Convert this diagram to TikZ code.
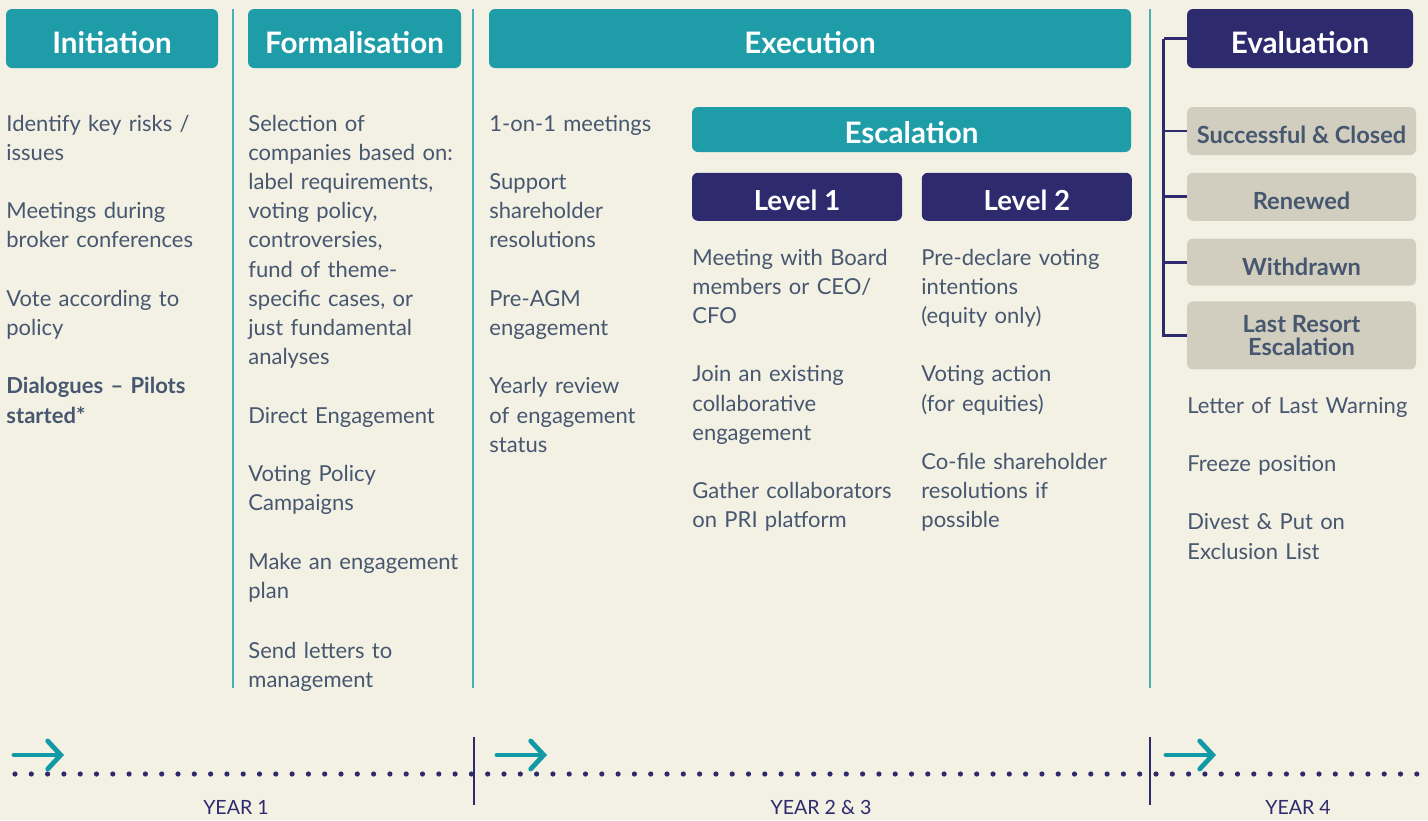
\documentclass[tikz,border=0pt]{standalone}
\usepackage{fontspec}
\setmainfont{Lato}
\usetikzlibrary{arrows.meta, positioning}

\definecolor{paper}{HTML}{F3F0E4}
\definecolor{phaseteal}{HTML}{1E9DA8}
\definecolor{arrowteal}{HTML}{1199A5}
\definecolor{ruleteal}{HTML}{4DAEB6}
\definecolor{navy}{HTML}{2D2A6E}
\definecolor{stone}{HTML}{D1CEBF}
\definecolor{slate}{HTML}{46576F}

\tikzset{
  phase/.style={fill=phaseteal, rounded corners=3pt, text=white, inner sep=0pt,
    text height=14.6pt, text depth=0pt, font=\fontsize{14.8}{17}\selectfont\bfseries},
  level/.style={phase, fill=navy},
  outcome/.style={fill=stone, rounded corners=3pt, text=slate, inner sep=0pt,
    align=center, minimum width=114.5pt, font=\fontsize{11.8}{11.5}\selectfont\bfseries},
  lowcaps/.style={text height=#1, text depth=0pt},
  body/.style={anchor=base west, inner sep=0pt, text width=112pt, align=left,
    text=slate, font=\fontsize{11}{14.6}\selectfont},
  colrule/.style={draw=ruleteal, line width=0.7pt},
  branch/.style={draw=navy, line width=1.4pt},
  yearsep/.style={draw=navy, line width=1pt},
  dots/.style={draw=navy, line width=2.6pt, line cap=round, dash pattern=on 0pt off 8.15pt},
  yeararrow/.style={draw=arrowteal, line width=2.4pt, line cap=round,
    -{Straight Barb[length=6.5pt, width=14pt, line cap=round]}},
  yearlabel/.style={text=navy, inner sep=0pt, font=\fontsize{9.8}{12}\selectfont},
}

\begin{document}
\begin{tikzpicture}[x=0.5pt, y=-0.5pt]
  \useasboundingbox (0,0) rectangle (1428,820);
  \fill[paper] (0,0) rectangle (1428,820);

  % phase headers
  \node[phase, minimum width=106pt, minimum height=29.5pt] (init) at (112,38.5) {Initiation};
  \node[phase, minimum width=106.5pt, minimum height=29.5pt] (form) at (354.5,38.5) {Formalisation};
  \node[phase, minimum width=321pt, minimum height=29.5pt] (exec) at (810,38.5) {Execution};
  \node[level, minimum width=113pt, minimum height=29.5pt] (eval) at (1300,38.5) {Evaluation};

  % column rules
  \draw[colrule] (233,9) -- (233,688);
  \draw[colrule] (473,9) -- (473,688);
  \draw[colrule] (1150,9) -- (1150,688);

  % escalation block
  \node[phase, lowcaps=14.1pt, minimum width=219.5pt, minimum height=22.5pt] (esc) at (911.5,129.5) {Escalation};
  \node[level, lowcaps=13.4pt, font=\fontsize{13.8}{16}\selectfont\bfseries, minimum width=105pt, minimum height=24pt,
    below right=10pt and 0pt of esc.south west] (lvlone) {Level 1};
  \node[level, lowcaps=13.4pt, font=\fontsize{13.8}{16}\selectfont\bfseries, minimum width=105pt, minimum height=24pt,
    right=9.5pt of lvlone] (lvltwo) {Level 2};

  % evaluation outcomes
  \node[outcome, lowcaps=12.9pt, minimum height=24pt] (succ) at (1301.5,131) {Successful \& Closed};
  \node[outcome, lowcaps=12.9pt, minimum height=24pt, below=8.5pt of succ] (renew) {Renewed};
  \node[outcome, lowcaps=12.9pt, minimum height=23.5pt, below=8.5pt of renew] (withd) {Withdrawn};
  \node[outcome, minimum height=34pt, below=7.5pt of withd] (lastres) {Last Resort\\Escalation};

  \draw[branch] (eval.west) -- ++(-11.5pt,0) coordinate (brtop);
  \draw[branch] (brtop) |- (lastres.west);
  \draw[branch] (succ.west) -- (succ.west -| brtop);
  \draw[branch] (renew.west) -- (renew.west -| brtop);
  \draw[branch] (withd.west) -- (withd.west -| brtop);

  % column texts
  \node[body] (inittext) at (6,131) {Identify key risks /\\ issues\\[14.6pt]
    Meetings during\\ broker conferences\\[14.6pt]
    Vote according to\\ policy\\[14.6pt]
    {\bfseries Dialogues -- Pilots\\ started*}};
  \node[body] (formtext) at (248,131) {Selection of\\ companies based on:\\ label requirements,\\
    voting policy,\\ controversies,\\ fund of theme-\\ specific cases, or\\ just fundamental\\ analyses\\[14.6pt]
    Direct Engagement\\[14.6pt]
    Voting Policy\\ Campaigns\\[14.6pt]
    Make an engagement\\ plan\\[15.4pt]
    Send letters to\\ management};
  \node[body] (exectext) at (489,131) {1-on-1 meetings\\[14.6pt]
    Support\\ shareholder\\ resolutions\\[14.6pt]
    Pre-AGM\\ engagement\\[14.6pt]
    Yearly review\\ of engagement\\ status};
  \node[body] (lvlonetext) at (692,265) {Meeting with Board\\ members or CEO/\\ CFO\\[14.6pt]
    Join an existing\\ collaborative\\ engagement\\[14.6pt]
    Gather collaborators\\ on PRI platform};
  \node[body] (lvltwotext) at (921,265) {Pre-declare voting\\ intentions\\ (equity only)\\[14.6pt]
    Voting action\\ (for equities)\\[14.6pt]
    Co-file shareholder\\ resolutions if\\ possible};
  \node[body] (evaltext) at (1187,413) {Letter of Last Warning\\[14.6pt]
    Freeze position\\[14.6pt]
    Divest \& Put on\\ Exclusion List};

  % timeline
  \coordinate (tlstart) at (15,774);
  \coordinate (tlend) at (1418,774);
  \draw[dots] (tlstart) -- (tlend);
  \draw[yearsep] (474,737) -- (474,805);
  \draw[yearsep] (1150,737) -- (1150,805);
  \draw[yeararrow] (14,755) -- (64,755);
  \draw[yeararrow] (497,755) -- (547,755);
  \draw[yeararrow] (1166,755) -- (1216,755);
  \node[yearlabel] (yone) at (236,807.5) {YEAR 1};
  \node[yearlabel] (ytwo) at (821,807.5) {YEAR 2 \& 3};
  \node[yearlabel] (yfour) at (1298,807.5) {YEAR 4};
\end{tikzpicture}
\end{document}
